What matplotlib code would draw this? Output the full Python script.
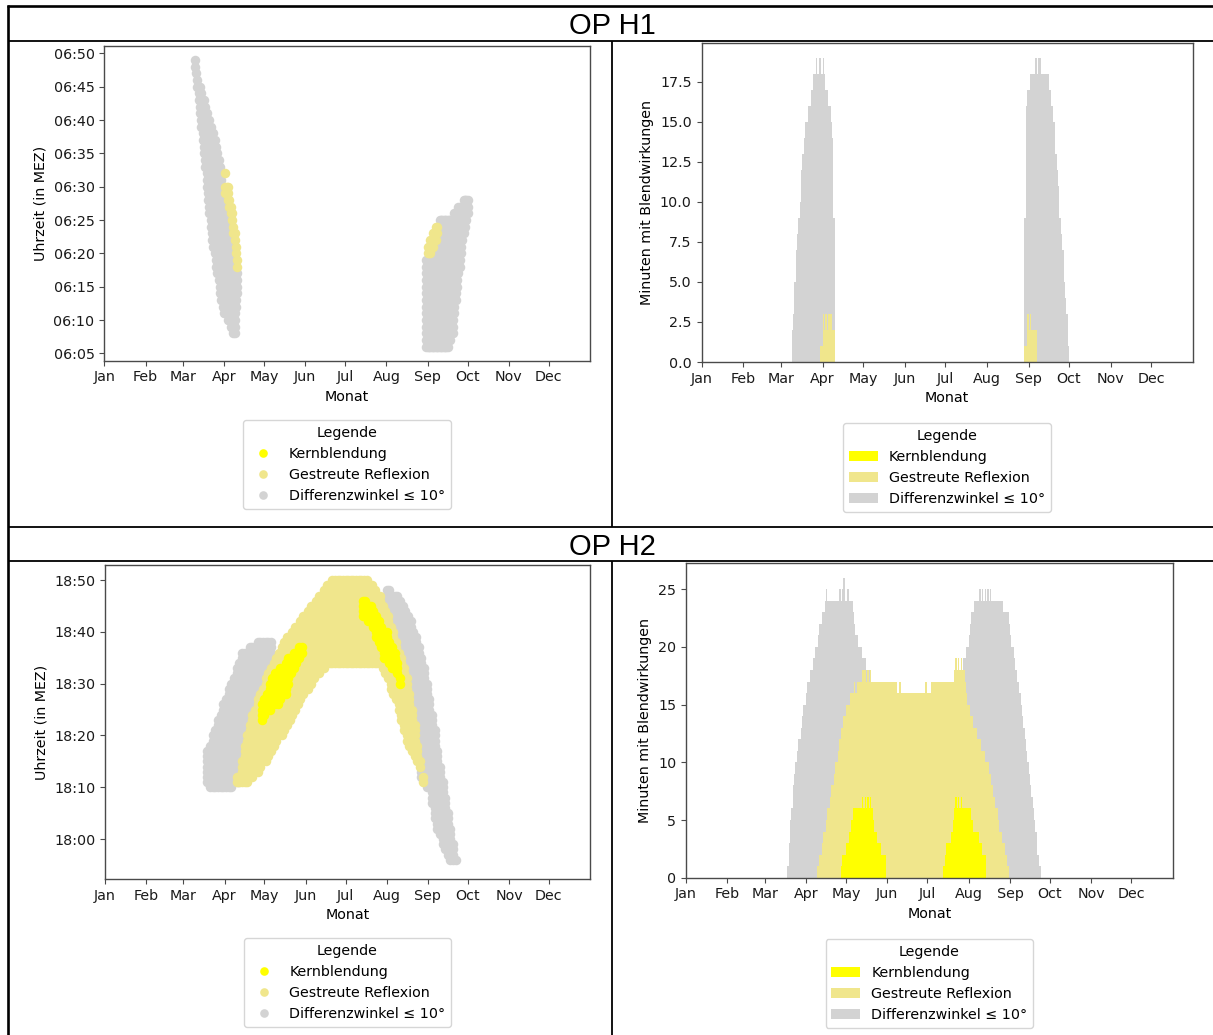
import numpy as np
import matplotlib
matplotlib.use('Agg')
import matplotlib.pyplot as plt
from matplotlib.lines import Line2D
from matplotlib.patches import Patch
from matplotlib.ticker import FuncFormatter


FIG_W, FIG_H = 1213, 1035

months = ['Jan', 'Feb', 'Mar', 'Apr', 'May', 'Jun', 'Jul', 'Aug', 'Sep', 'Oct', 'Nov', 'Dec']
month_start_days = [0, 31, 59, 90, 120, 151, 181, 212, 243, 273, 304, 334]

legend_labels = ['Kernblendung', 'Gestreute Reflexion', 'Differenzwinkel \u2264 10\u00b0']
col_kern = 'yellow'
col_streu = 'khaki'
col_diff = 'lightgray'

# OP H1 scatter: day of year, first and last glare minute after 06:00
h1_diff_a_days = list(range(68, 101))
h1_diff_a_lo = [48, 47, 45, 43, 41, 39, 37, 35, 33, 30, 28, 26, 24, 22, 21, 20, 18,
                17, 16, 14, 13, 12, 11, 11, 11, 10, 10, 9, 9, 8, 8, 12, 14]
h1_diff_a_hi = [49, 47, 46, 45, 45, 44, 43, 43, 42, 41, 40, 40, 39, 38, 38, 37, 36,
                35, 34, 33, 31, 30, 29, 29, 28, 27, 26, 25, 24, 22, 21, 19, 17]
h1_diff_b_days = list(range(242, 274))
h1_diff_b_lo = [6, 6, 6, 6, 6, 6, 6, 6, 6, 6, 6, 6, 6, 6, 6, 6, 6,
                7, 7, 8, 8, 11, 13, 15, 17, 18, 20, 22, 23, 24, 25, 26]
h1_diff_b_hi = [19, 19, 19, 20, 20, 21, 21, 22, 23, 24, 25, 25, 25, 25, 25, 25,
                25, 25, 25, 25, 25, 26, 26, 26, 27, 27, 27, 27, 28, 28, 28, 28]
h1_streu_a_days = [91, 91, 92, 93, 94, 95, 96, 97, 98, 99, 100]
h1_streu_a_lo = [32, 29, 29, 28, 27, 26, 25, 23, 22, 20, 18]
h1_streu_a_hi = [32, 30, 30, 30, 28, 27, 26, 24, 23, 21, 19]
h1_streu_b_days = [243, 244, 245, 246, 247, 248, 249, 250]
h1_streu_b_lo = [20, 20, 20, 21, 21, 22, 22, 23]
h1_streu_b_hi = [21, 21, 22, 22, 23, 23, 24, 24]

# OP H2 scatter: day of year, first and last glare minute after 18:00
h2_diff_a_days = list(range(77, 126, 2))
h2_diff_a_lo = [11, 10, 10, 10, 10, 10, 10, 10, 10, 10, 11, 11, 11,
                13, 16, 18, 20, 22, 23, 25, 26, 27, 29, 30, 31]
h2_diff_a_hi = [17, 18, 20, 21, 23, 24, 26, 27, 29, 30, 31, 33, 34,
                36, 36, 36, 37, 37, 37, 38, 38, 38, 38, 38, 38]
h2_diff_b_days = list(range(212, 265, 2))
h2_diff_b_lo = [42, 41, 40, 38, 37, 35, 33, 31, 29, 26, 23, 20, 16, 12,
                11, 10, 10, 7, 4, 2, 1, -1, -2, -3, -4, -4, -4]
h2_diff_b_hi = [48, 48, 47, 47, 47, 46, 45, 44, 43, 42, 40, 39, 37, 35,
                33, 30, 27, 24, 21, 17, 14, 11, 8, 5, 2, -1, -4]
h2_streu_days = list(range(99, 240, 2))
h2_streu_lo = [11, 11, 11, 11, 11, 12, 12, 13, 13, 14,
               15, 15, 16, 17, 18, 19, 20, 20, 21, 22,
               23, 24, 25, 26, 27, 28, 29, 29, 30, 31,
               32, 32, 33, 33, 34, 34, 34, 34, 34, 34,
               34, 34, 34, 34, 34, 34, 34, 34, 34, 34,
               34, 34, 34, 34, 34, 33, 32, 31, 29, 28,
               27, 25, 23, 21, 19, 18, 17, 16, 15, 14,
               11]
h2_streu_hi = [12, 12, 15, 18, 20, 22, 24, 25, 27, 28,
               29, 31, 32, 33, 34, 35, 36, 37, 38, 39,
               39, 40, 41, 41, 42, 43, 43, 44, 45, 45,
               46, 47, 47, 48, 49, 49, 50, 50, 50, 50,
               50, 50, 50, 50, 50, 50, 50, 50, 50, 50,
               49, 49, 48, 47, 47, 45, 44, 43, 41, 40,
               38, 36, 35, 33, 31, 28, 25, 22, 18, 15,
               12]
h2_kern_a_days = list(range(118, 149, 2))
h2_kern_a_lo = [23, 24, 25, 25, 26, 26, 26, 27, 28, 28, 30, 32, 33, 34, 35, 36]
h2_kern_a_hi = [26, 27, 28, 30, 31, 32, 32, 33, 33, 34, 35, 35, 36, 36, 37, 37]
h2_kern_b_days = list(range(194, 223, 2))
h2_kern_b_lo = [43, 43, 42, 42, 41, 39, 38, 37, 35, 35, 34, 33, 33, 32, 30]
h2_kern_b_hi = [46, 46, 45, 45, 44, 43, 42, 41, 40, 40, 38, 37, 36, 34, 31]

# OP H1 bars: minutes with glare per day, first day + daily values
h1_bar_diff_a_start = 67
h1_bar_diff_a = [2, 3, 5, 7, 8, 9, 10, 12, 13, 14, 15, 15, 16, 16, 17, 17, 18, 18, 19, 18,
                 19, 19, 18, 19, 18, 17, 17, 16, 16, 15, 14, 9]
h1_bar_streu_a_start = 88
h1_bar_streu_a = [1, 1, 3, 2, 3, 2, 3, 3, 3, 2, 2]
h1_bar_diff_b_start = 240
h1_bar_diff_b = [9, 16, 17, 17, 18, 18, 18, 18, 19, 18, 19, 19, 18, 18, 18, 18, 18, 18, 17, 17,
                 16, 15, 15, 13, 12, 11, 9, 8, 7, 5, 4, 3, 1]
h1_bar_streu_b_start = 240
h1_bar_streu_b = [1, 1, 3, 2, 3, 2, 2, 2, 2]

# OP H2 bars
h2_bar_diff_a_start = 76
h2_bar_diff_a = [1, 3, 5, 6, 8, 9, 10, 11, 12, 12, 13, 14, 15, 15, 16, 17, 17, 18, 18, 19,
                 19, 20, 20, 21, 22, 22, 23, 23, 24, 25, 24, 24, 24, 24, 24, 24, 24, 24, 24, 25,
                 24, 25, 26, 24, 24, 25, 24, 24, 24, 23, 22, 21, 21, 20, 20, 20, 19, 19, 19, 18,
                 18, 18, 18]
h2_bar_diff_b_start = 208
h2_bar_diff_b = [19, 19, 20, 20, 21, 22, 23, 23, 24, 24, 24, 24, 25, 24, 25, 24, 25, 24, 25, 24,
                 25, 24, 24, 24, 24, 24, 24, 24, 24, 24, 23, 23, 23, 23, 22, 21, 20, 20, 19, 18,
                 17, 17, 16, 15, 14, 13, 12, 11, 10, 9, 8, 7, 6, 5, 4, 2, 2, 1]
h2_bar_streu_start = 98
h2_bar_streu = [1, 1, 2, 2, 3, 4, 4, 5, 6, 6, 7, 8, 8, 9, 10, 10, 11, 12, 13, 13,
                14, 14, 15, 15, 15, 16, 16, 16, 17, 16, 17, 17, 17, 17, 18, 18, 18, 17, 18, 17,
                18, 17, 17, 17, 17, 17, 17, 17, 17, 17, 17, 17, 17, 17, 17, 17, 17, 17, 17, 17,
                16, 16, 17, 16, 16, 16, 16, 16, 16, 16, 16, 16, 16, 16, 16, 16, 16, 16, 16, 16,
                16, 17, 17, 16, 16, 16, 17, 17, 17, 17, 17, 17, 17, 17, 17, 17, 17, 17, 17, 17,
                17, 17, 17, 18, 19, 18, 19, 18, 19, 18, 18, 17, 16, 15, 15, 14, 14, 13, 13, 13,
                12, 12, 12, 11, 11, 11, 10, 10, 10, 9, 9, 8, 7, 7, 6, 6, 5, 4, 4, 3,
                3, 2, 2, 1]
h2_bar_kern_a_start = 116
h2_bar_kern_a = [1, 2, 2, 2, 3, 3, 4, 4, 5, 6, 6, 6, 6, 6, 6, 6, 7, 6, 7, 6,
                 7, 6, 7, 6, 5, 4, 4, 3, 3, 3, 2, 2, 2, 2]
h2_bar_kern_b_start = 193
h2_bar_kern_b = [1, 2, 3, 3, 3, 3, 4, 5, 6, 7, 6, 7, 6, 7, 6, 6, 6, 6, 6, 6,
                 6, 5, 4, 4, 4, 4, 4, 3, 3, 2, 2, 2]


def px_axes(fig, left, top, right, bottom):
    return fig.add_axes([left / FIG_W, 1 - bottom / FIG_H,
                         (right - left) / FIG_W, (bottom - top) / FIG_H])


def fig_line(fig, x0, y0, x1, y1, lw):
    fig.add_artist(Line2D([x0 / FIG_W, x1 / FIG_W], [1 - y0 / FIG_H, 1 - y1 / FIG_H],
                          transform=fig.transFigure, color='black', lw=lw,
                          solid_capstyle='butt'))


def minute_points(days, lo, hi, base):
    xs, ys = [], []
    for d, a, b in zip(days, lo, hi):
        for m in range(a, b + 1):
            xs.append(d)
            ys.append(base + m)
    return xs, ys


def style_axes(ax):
    ax.set_xlim(0, 365)
    ax.set_xticks(month_start_days)
    ax.set_xticklabels(months)
    ax.set_xlabel('Monat')
    for spine in ax.spines.values():
        spine.set_color('#4a4a4a')
        spine.set_linewidth(1.0)
    ax.tick_params(color='#4a4a4a', labelcolor='#1a1a1a')


def scatter_panel(ax, series, base, ylim, yticks, legend_y):
    for days, lo, hi, color in series:
        xs, ys = minute_points(days, lo, hi, base)
        ax.scatter(xs, ys, s=47, c=color, linewidths=0)
    style_axes(ax)
    ax.set_ylim(*ylim)
    ax.set_yticks(yticks)
    ax.yaxis.set_major_formatter(FuncFormatter(
        lambda v, p: f'{int(round(v)) // 60:02d}:{int(round(v)) % 60:02d}'))
    ax.set_ylabel('Uhrzeit (in MEZ)')
    handles = [Line2D([], [], marker='o', linestyle='none', markersize=6.2,
                      markerfacecolor=c, markeredgewidth=0)
               for c in (col_kern, col_streu, col_diff)]
    ax.legend(handles, legend_labels, title='Legende', loc='upper center',
              bbox_to_anchor=(0.5, legend_y), borderaxespad=0)


def bar_panel(ax, series, ylim, yticks, legend_y):
    for start, heights, color in series:
        x = start + np.arange(len(heights))
        ax.bar(x, heights, width=1.0, align='edge', color=color,
               linewidth=0, antialiased=False)
    style_axes(ax)
    ax.set_ylim(*ylim)
    ax.set_yticks(yticks)
    ax.set_ylabel('Minuten mit Blendwirkungen')
    handles = [Patch(facecolor=c, edgecolor='none') for c in (col_kern, col_streu, col_diff)]
    ax.legend(handles, legend_labels, title='Legende', loc='upper center',
              bbox_to_anchor=(0.5, legend_y), borderaxespad=0)


def main():
    plt.rcParams['font.size'] = 10.3
    fig = plt.figure(figsize=(FIG_W / 100, FIG_H / 100), dpi=100)

    # table frame
    fig_line(fig, 7, 6, FIG_W, 6, 1.9)
    fig_line(fig, 8.2, 5, 8.2, FIG_H, 1.9)
    fig_line(fig, 8, 40.8, FIG_W, 40.8, 1.3)
    fig_line(fig, 612, 40.8, 612, 527, 1.3)
    fig_line(fig, 8, 527, FIG_W, 527, 1.3)
    fig_line(fig, 8, 561, FIG_W, 561, 1.3)
    fig_line(fig, 612, 561, 612, FIG_H, 1.3)
    fig.text(612 / FIG_W, 1 - 33.5 / FIG_H, 'OP H1', ha='center', va='baseline',
             fontsize=21, family='Liberation Sans')
    fig.text(612 / FIG_W, 1 - 555 / FIG_H, 'OP H2', ha='center', va='baseline',
             fontsize=21, family='Liberation Sans')

    ax1 = px_axes(fig, 104.3, 46, 590, 360.7)
    scatter_panel(ax1, [
        (h1_diff_a_days, h1_diff_a_lo, h1_diff_a_hi, col_diff),
        (h1_diff_b_days, h1_diff_b_lo, h1_diff_b_hi, col_diff),
        (h1_streu_a_days, h1_streu_a_lo, h1_streu_a_hi, col_streu),
        (h1_streu_b_days, h1_streu_b_lo, h1_streu_b_hi, col_streu),
    ], 6 * 60, (6 * 60 + 3.9, 6 * 60 + 51.1), np.arange(365, 411, 5), -0.188)

    ax2 = px_axes(fig, 701.5, 42.7, 1192.7, 362)
    bar_panel(ax2, [
        (h1_bar_diff_a_start, h1_bar_diff_a, col_diff),
        (h1_bar_diff_b_start, h1_bar_diff_b, col_diff),
        (h1_bar_streu_a_start, h1_bar_streu_a, col_streu),
        (h1_bar_streu_b_start, h1_bar_streu_b, col_streu),
    ], (0, 19.95), np.arange(0, 18, 2.5), -0.191)

    ax3 = px_axes(fig, 105, 565, 590, 879)
    scatter_panel(ax3, [
        (h2_diff_a_days, h2_diff_a_lo, h2_diff_a_hi, col_diff),
        (h2_diff_b_days, h2_diff_b_lo, h2_diff_b_hi, col_diff),
        (h2_streu_days, h2_streu_lo, h2_streu_hi, col_streu),
        (h2_kern_a_days, h2_kern_a_lo, h2_kern_a_hi, col_kern),
        (h2_kern_b_days, h2_kern_b_lo, h2_kern_b_hi, col_kern),
    ], 18 * 60, (17 * 60 + 52.3, 18 * 60 + 52.9), np.arange(1080, 1131, 10), -0.188)

    ax4 = px_axes(fig, 686, 562.7, 1172.7, 877.7)
    bar_panel(ax4, [
        (h2_bar_diff_a_start, h2_bar_diff_a, col_diff),
        (h2_bar_diff_b_start, h2_bar_diff_b, col_diff),
        (h2_bar_streu_start, h2_bar_streu, col_streu),
        (h2_bar_kern_a_start, h2_bar_kern_a, col_kern),
        (h2_bar_kern_b_start, h2_bar_kern_b, col_kern),
    ], (0, 27.3), np.arange(0, 26, 5), -0.195)

    fig.savefig('out.png', dpi=100)
    plt.close(fig)


if __name__ == '__main__':
    main()
